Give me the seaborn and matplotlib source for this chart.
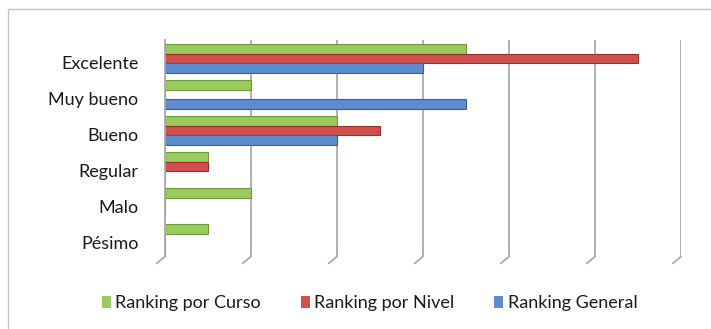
import matplotlib.pyplot as plt
import matplotlib.transforms as mtransforms
import pandas as pd
import seaborn as sns
from matplotlib.patches import Patch, Rectangle

categorias = ["Excelente", "Muy bueno", "Bueno", "Regular", "Malo", "Pésimo"]
series = ["Ranking por Curso", "Ranking por Nivel", "Ranking General"]
curso = [7, 2, 4, 1, 2, 1]
nivel = [11, 0, 5, 1, 0, 0]
general = [6, 7, 4, 0, 0, 0]
x_ticks = [0, 2, 4, 6, 8, 10, 12]

palette = {
    "Ranking por Curso": "#9BCB5F",
    "Ranking por Nivel": "#D0504D",
    "Ranking General": "#5F8BD0",
}
edges = {
    "Ranking por Curso": "#6E9A3A",
    "Ranking por Nivel": "#9A2E2C",
    "Ranking General": "#3A5F9E",
}

df = pd.DataFrame({
    "Categoria": categorias * 3,
    "Serie": [s for s in series for _ in categorias],
    "Valor": curso + nivel + general,
})

sns.set_style("white")
plt.rcParams["font.family"] = ["Lato", "DejaVu Sans"]

fig = plt.figure(figsize=(7.11, 3.29), dpi=100)
ax = fig.add_axes([0.232, 0.2204, 0.726, 0.6565])

sns.barplot(data=df, x="Valor", y="Categoria", hue="Serie",
    order=categorias, hue_order=series, palette=palette,
    orient="h", width=0.8, saturation=1, legend=False, ax=ax)

for cont, s in zip(ax.containers, series):
    for bar in cont:
        bar.set_edgecolor(edges[s])
        bar.set_linewidth(0.8)

grid_col = "#ababab"
ax.set_xlim(0, 12)
ax.set_ylim(5.5, -0.5)
ax.set_xticks(x_ticks)
ax.set_xticklabels([])
ax.xaxis.grid(True, color=grid_col, linewidth=1.3)
ax.set_axisbelow(True)
ax.tick_params(length=0)
ax.tick_params(axis="y", pad=19, labelsize=13, labelcolor="#1a1a1a")
for sp in ["top", "right", "bottom"]:
    ax.spines[sp].set_visible(False)
ax.spines["left"].set_color(grid_col)
ax.spines["left"].set_linewidth(1.3)
ax.set_xlabel("")
ax.set_ylabel("")

# small slanted feet under the gridlines (3D floor look)
for xt in x_ticks:
    ax.annotate("", xy=(xt, 0), xycoords=ax.get_xaxis_transform(),
        xytext=(-6, -5), textcoords="offset points",
        arrowprops=dict(arrowstyle="-", color=grid_col, lw=1.3,
                        shrinkA=0, shrinkB=0),
        annotation_clip=False)

# labels sit a little lower than the bar groups
shift = mtransforms.ScaledTranslation(0, -0.04, fig.dpi_scale_trans)
for lab in ax.get_yticklabels():
    lab.set_transform(lab.get_transform() + shift)

handles = [Patch(facecolor=palette[s], edgecolor="none", label=s) for s in series]
fig.legend(handles=handles, loc="center", bbox_to_anchor=(0.52, 0.078),
    ncol=3, frameon=False, handlelength=0.5, handleheight=0.6,
    handletextpad=0.25, columnspacing=2.2, fontsize=13,
    labelcolor="#1a1a1a")

# outer chart border
fig.add_artist(Rectangle((8 / 711, -0.1), 1.0, 1.1 - 9 / 329,
    transform=fig.transFigure, fill=False, edgecolor="#c4c4c4", linewidth=1))

fig.savefig("out.png", dpi=100)
